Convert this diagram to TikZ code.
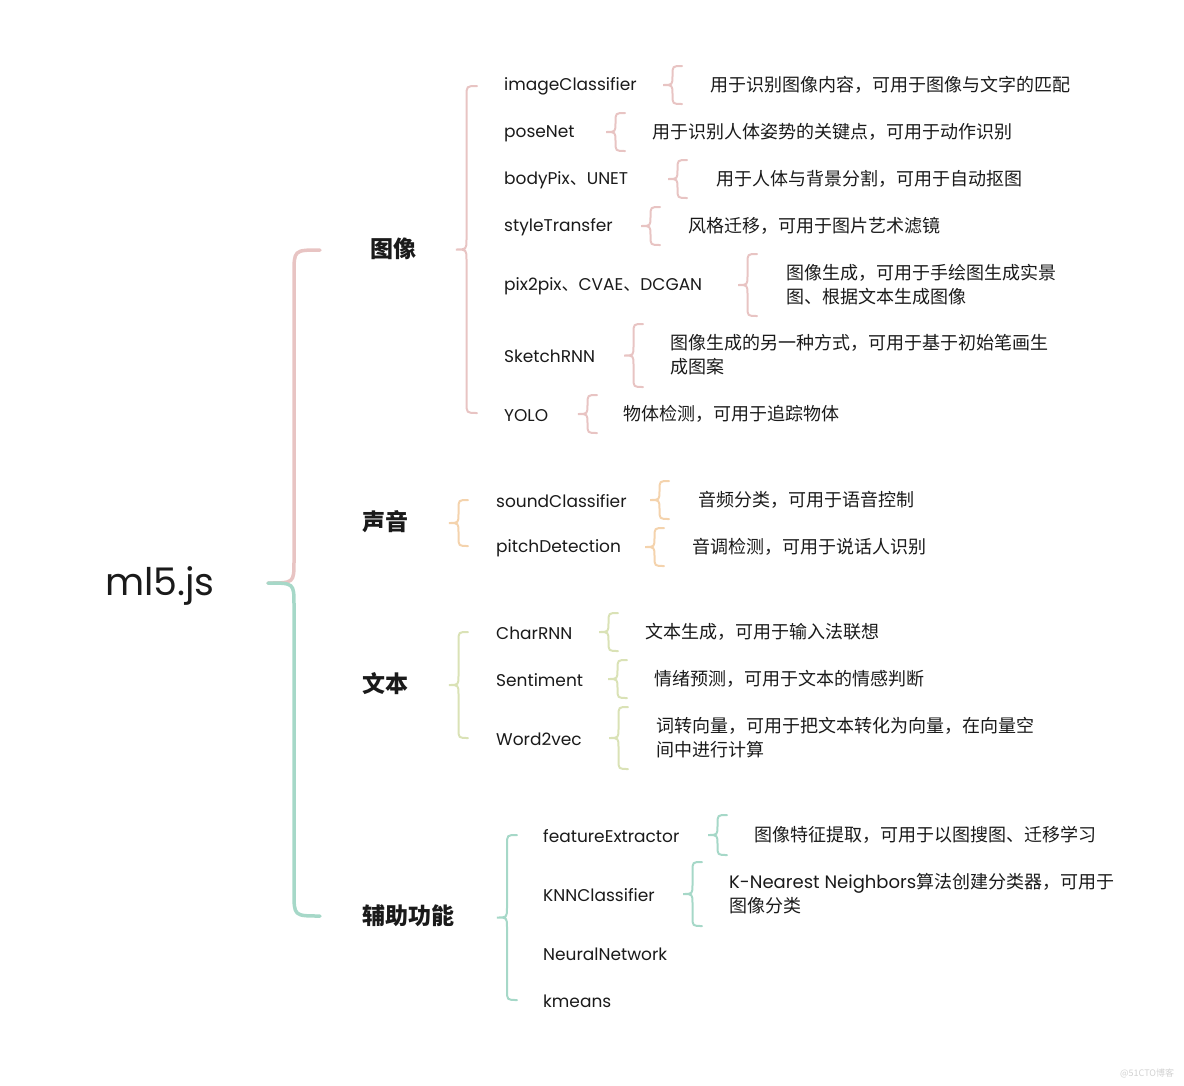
\documentclass[tikz,border=0pt]{standalone}
\usepackage{fontspec}
\setmainfont{Poppins}
\newfontfamily\lat{Poppins}
\newfontfamily\cjk{Noto Sans CJK SC}
\usetikzlibrary{positioning}

\definecolor{imgpink}{HTML}{E8C4C3}
\definecolor{sndorange}{HTML}{F4D3AD}
\definecolor{txtgreen}{HTML}{DAE2B6}
\definecolor{auxteal}{HTML}{A6D8C8}
\definecolor{ink}{HTML}{1A1A1A}

% curly brace: style, tip x, top y, bottom y, width
\newcommand{\curly}[5]{%
  \pgfmathsetmacro{\cvx}{#2+#5/2}%
  \pgfmathsetmacro{\cex}{#2+#5}%
  \pgfmathsetmacro{\cmy}{(#3+#4)/2}%
  \pgfmathsetmacro{\crad}{#5/2}%
  \draw[#1] (\cex,#3) .. controls (\cvx,#3) .. (\cvx,#3+\crad)
    -- (\cvx,\cmy-\crad) .. controls (\cvx,\cmy) .. (#2,\cmy)
    .. controls (\cvx,\cmy) .. (\cvx,\cmy+\crad)
    -- (\cvx,#4-\crad) .. controls (\cvx,#4) .. (\cex,#4);}

\begin{document}
\begin{tikzpicture}[x=1pt,y=-1pt,line cap=round,
                    every node/.style={inner sep=0pt,anchor=west,text=ink}]
  \tikzstyle{root}=[font=\lat\fontsize{38}{44}\selectfont,yshift=-3pt]
  \tikzstyle{group}=[font=\cjk\bfseries\fontsize{23}{28}\selectfont]
  \tikzstyle{item}=[font=\lat\fontsize{17}{24}\selectfont,yshift=-1.5pt]
  \tikzstyle{desc}=[font=\cjk\fontsize{18}{24}\selectfont,align=left]
  \tikzstyle{thin}=[line width=2pt]
  \useasboundingbox (0,0) rectangle (1184,1085);

  \node[root]  (ml5) at (105,583) {ml5.js};

  \node[group] (img) at (370,249) {图像};
  \node[group] (snd) at (362,522) {声音};
  \node[group] (txt) at (362,684) {文本};
  \node[group] (aux) at (362,916) {辅助功能};

  % main brace
  \draw[imgpink,line width=3.5pt] (320,250) .. controls (294,250) .. (294,274)
    -- (294,561) .. controls (294,583) .. (268,583);
  \draw[auxteal,line width=3.5pt] (268,583) .. controls (294,583) .. (294,605)
    -- (294,892) .. controls (294,916) .. (320,916);

  % image
  \curly{imgpink,thin}{456}{86}{413}{21}
  \node[item] (clf)    at (504,85)  {imageClassifier};
  \node[item] (pose)   at (504,132) {poseNet};
  \node[item] (body)   at (504,179) {bodyPix{\cjk 、}UNET};
  \node[item] (style)  at (504,226) {styleTransfer};
  \node[item] (pix)    at (504,285) {pix2pix{\cjk 、}CVAE{\cjk 、}DCGAN};
  \node[item] (sketch) at (504,355) {SketchRNN};
  \node[item] (yolo)   at (504,414) {YOLO};

  \curly{imgpink,thin}{663}{66}{104}{19}
  \curly{imgpink,thin}{606}{113}{151}{19}
  \curly{imgpink,thin}{668}{160}{198}{19}
  \curly{imgpink,thin}{641}{207}{245}{19}
  \curly{imgpink,thin}{738}{254}{316}{19}
  \curly{imgpink,thin}{624}{324}{387}{19}
  \curly{imgpink,thin}{578}{395}{433}{19}

  \node[desc] (d-clf)    at (710,85)  {用于识别图像内容，可用于图像与文字的匹配};
  \node[desc] (d-pose)   at (652,132) {用于识别人体姿势的关键点，可用于动作识别};
  \node[desc] (d-body)   at (716,179) {用于人体与背景分割，可用于自动抠图};
  \node[desc] (d-style)  at (688,226) {风格迁移，可用于图片艺术滤镜};
  \node[desc] (d-pix)    at (786,285) {图像生成，可用于手绘图生成实景\\图、根据文本生成图像};
  \node[desc] (d-sketch) at (670,355) {图像生成的另一种方式，可用于基于初始笔画生\\成图案};
  \node[desc] (d-yolo)   at (623,414) {物体检测，可用于追踪物体};

  % sound
  \curly{sndorange,thin}{449}{500}{546}{19}
  \node[item] (sclf)  at (496,500) {soundClassifier};
  \node[item] (pitch) at (496,547) {pitchDetection};
  \curly{sndorange,thin}{650}{481}{519}{19}
  \curly{sndorange,thin}{645}{528}{566}{19}
  \node[desc] (d-sclf)  at (698,500) {音频分类，可用于语音控制};
  \node[desc] (d-pitch) at (692,547) {音调检测，可用于说话人识别};

  % text
  \curly{txtgreen,thin}{449}{632}{738}{19}
  \node[item] (crnn)  at (496,632) {CharRNN};
  \node[item] (senti) at (496,679) {Sentiment};
  \node[item] (w2v)   at (496,738) {Word2vec};
  \curly{txtgreen,thin}{599}{613}{651}{19}
  \curly{txtgreen,thin}{608}{660}{698}{19}
  \curly{txtgreen,thin}{609}{707}{769}{19}
  \node[desc] (d-crnn)  at (645,632) {文本生成，可用于输入法联想};
  \node[desc] (d-senti) at (654,679) {情绪预测，可用于文本的情感判断};
  \node[desc] (d-w2v)   at (656,738) {词转向量，可用于把文本转化为向量，在向量空\\间中进行计算};

  % helpers
  \curly{auxteal,thin}{497}{835}{1000}{20}
  \node[item] (feat) at (543,835)  {featureExtractor};
  \node[item] (knn)  at (543,894)  {KNNClassifier};
  \node[item] (nn)   at (543,953)  {NeuralNetwork};
  \node[item] (km)   at (543,1000) {kmeans};
  \curly{auxteal,thin}{708}{815}{855}{19}
  \curly{auxteal,thin}{683}{862}{926}{19}
  \node[desc] (d-feat) at (754,835) {图像特征提取，可用于以图搜图、迁移学习};
  \node[desc] (d-knn)  at (729,894) {{\lat K-Nearest Neighbors}算法创建分类器，可用于\\图像分类};

  \node[font=\cjk\fontsize{9}{10}\selectfont,text=black!18] (mark) at (1120,1073) {@51CTO博客};
\end{tikzpicture}
\end{document}
